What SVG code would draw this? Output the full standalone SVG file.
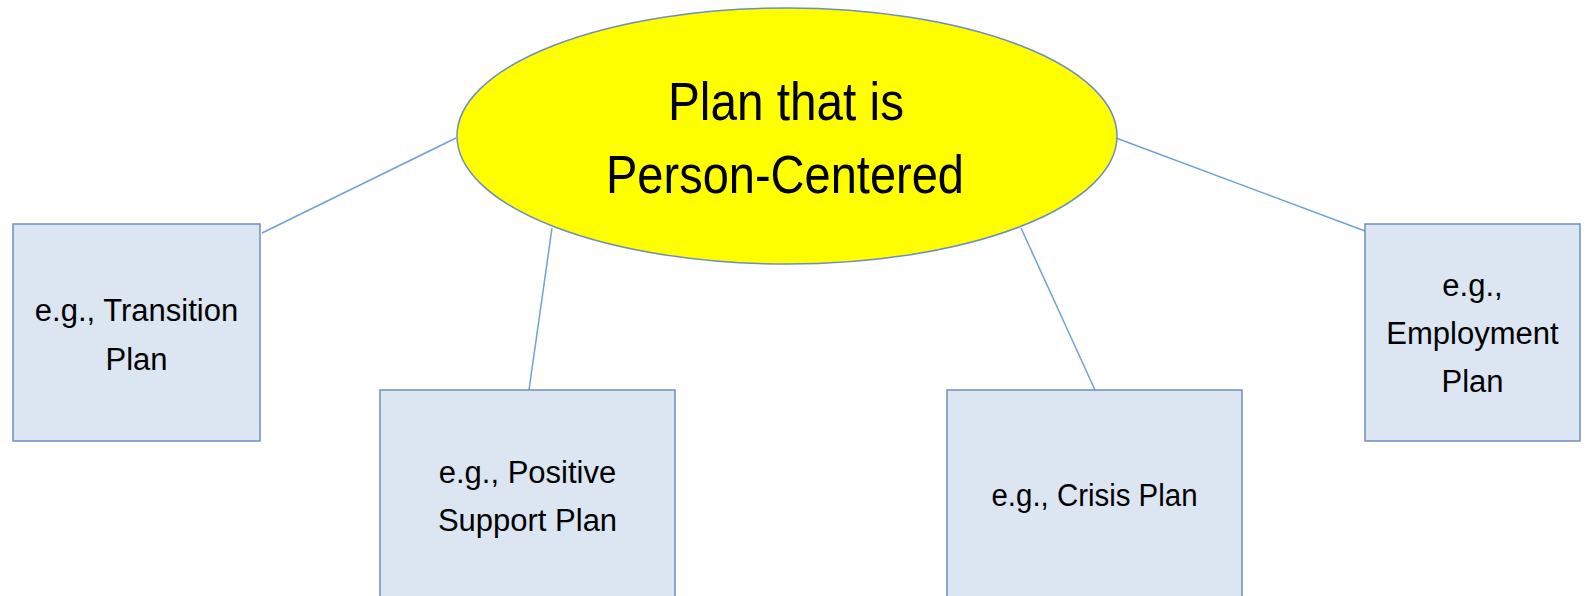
<svg xmlns="http://www.w3.org/2000/svg" width="1585" height="596" viewBox="0 0 1585 596">
<style>
.box{fill:#DCE6F2;stroke:#6D8EBF;stroke-width:1.5}
.lbl{font-family:"Liberation Sans",Arial,sans-serif;font-size:31px;fill:#000;text-anchor:middle}
.title{font-family:"Liberation Sans",Arial,sans-serif;font-size:53px;fill:#000;text-anchor:middle}
.conn{stroke:#6FA0D8;stroke-width:1.5;fill:none}
</style>
<rect width="1585" height="596" fill="#fff"/>
<g id="connectors">
<line class="conn" x1="456" y1="138" x2="262" y2="233"/>
<line class="conn" x1="552" y1="228" x2="529" y2="390"/>
<line class="conn" x1="1021" y1="228" x2="1095" y2="390"/>
<line class="conn" x1="1116" y1="138" x2="1365" y2="231"/>
</g>
<g id="center">
<ellipse cx="787" cy="136" rx="330" ry="128" fill="#FFFF00" stroke="#6D8EBF" stroke-width="1.5"/>
<text class="title" x="786" y="120" textLength="236" lengthAdjust="spacingAndGlyphs">Plan that is</text>
<text class="title" x="785" y="193" textLength="358" lengthAdjust="spacingAndGlyphs">Person-Centered</text>
</g>
<g id="transition">
<rect class="box" x="13" y="224" width="247" height="217"/>
<text class="lbl" x="136.5" y="321">e.g., Transition</text>
<text class="lbl" x="136.5" y="370">Plan</text>
</g>
<g id="positive">
<rect class="box" x="380" y="390" width="295" height="220"/>
<text class="lbl" x="527.5" y="483">e.g., Positive</text>
<text class="lbl" x="527.5" y="531">Support Plan</text>
</g>
<g id="crisis">
<rect class="box" x="947" y="390" width="295" height="220"/>
<text class="lbl" x="1094.5" y="506" textLength="206" lengthAdjust="spacingAndGlyphs">e.g., Crisis Plan</text>
</g>
<g id="employment">
<rect class="box" x="1365" y="224" width="215" height="217"/>
<text class="lbl" x="1472.5" y="296">e.g.,</text>
<text class="lbl" x="1472.5" y="344">Employment</text>
<text class="lbl" x="1472.5" y="392">Plan</text>
</g>
</svg>
